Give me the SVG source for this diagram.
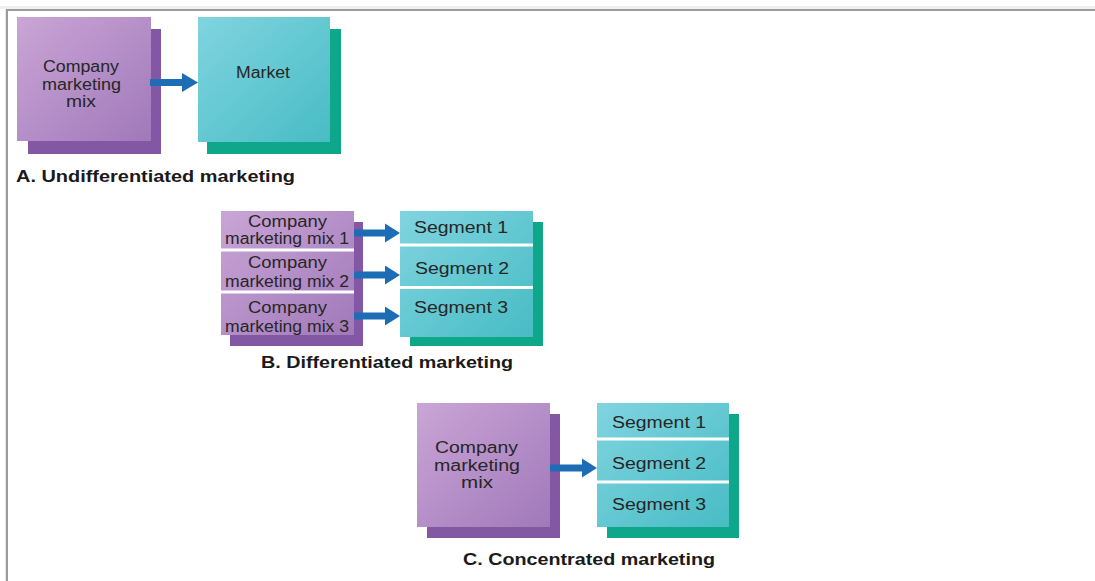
<svg xmlns="http://www.w3.org/2000/svg" width="1095" height="581" viewBox="0 0 1095 581">
<defs>
<linearGradient id="gp" x1="0" y1="0" x2="1" y2="1">
<stop offset="0" stop-color="#caa5d6"/>
<stop offset="1" stop-color="#a079b9"/>
</linearGradient>
<linearGradient id="gc" x1="0" y1="0" x2="1" y2="1">
<stop offset="0" stop-color="#80d4e0"/>
<stop offset="1" stop-color="#48bcc4"/>
</linearGradient>
<style>
.ps{fill:#8357a3}
.pf{fill:url(#gp)}
.cs{fill:#0fa78a}
.cf{fill:url(#gc)}
.t{font-family:"Liberation Sans",Arial,sans-serif;fill:#262626;text-anchor:middle;font-size:16px}
.cap{font-family:"Liberation Sans",Arial,sans-serif;font-weight:bold;font-size:16.5px;fill:#1a1a1a}
.sep{stroke:#ffffff;stroke-width:3}
.arr{fill:#1c6db5}
</style>
</defs>
<rect x="0" y="0" width="1095" height="581" fill="#ffffff"/>
<rect x="0" y="6" width="1095" height="3" fill="#f0f0f0"/>
<rect x="6" y="9" width="1089" height="2" fill="#9c9c9c"/>
<rect x="6" y="9" width="2" height="572" fill="#9c9c9c"/>
<rect x="5" y="9" width="1" height="572" fill="#e6e6e6"/>

<g id="a-mix">
<rect class="ps" x="28" y="29" width="133" height="125"/>
<rect class="pf" x="17" y="17" width="134" height="124"/>
<text class="t" x="81" y="72" textLength="76" lengthAdjust="spacingAndGlyphs">Company</text>
<text class="t" x="81.5" y="89.5" textLength="79" lengthAdjust="spacingAndGlyphs">marketing</text>
<text class="t" x="81" y="107" textLength="30" lengthAdjust="spacingAndGlyphs">mix</text>
</g>
<g id="a-market">
<rect class="cs" x="207" y="29" width="134" height="125"/>
<rect class="cf" x="198" y="17" width="132" height="125"/>
<text class="t" x="263" y="78" textLength="54" lengthAdjust="spacingAndGlyphs">Market</text>
</g>
<text class="cap" x="16" y="182" textLength="279" lengthAdjust="spacingAndGlyphs">A. Undifferentiated marketing</text>

<g id="b-mixes">
<rect class="ps" x="230" y="222" width="133" height="124"/>
<rect class="pf" x="221" y="211" width="133" height="124"/>
<line class="sep" x1="221" y1="250" x2="354" y2="250"/>
<line class="sep" x1="221" y1="292" x2="354" y2="292"/>
<text class="t" x="287.5" y="227" textLength="79" lengthAdjust="spacingAndGlyphs">Company</text>
<text class="t" x="287" y="244" textLength="124" lengthAdjust="spacingAndGlyphs">marketing mix 1</text>
<text class="t" x="287.5" y="268" textLength="79" lengthAdjust="spacingAndGlyphs">Company</text>
<text class="t" x="287" y="287" textLength="124" lengthAdjust="spacingAndGlyphs">marketing mix 2</text>
<text class="t" x="287.5" y="313" textLength="79" lengthAdjust="spacingAndGlyphs">Company</text>
<text class="t" x="287" y="332" textLength="124" lengthAdjust="spacingAndGlyphs">marketing mix 3</text>
</g>
<g id="b-segments">
<rect class="cs" x="410" y="222" width="133" height="124"/>
<rect class="cf" x="400" y="211" width="133" height="126"/>
<line class="sep" x1="400" y1="245" x2="533" y2="245"/>
<line class="sep" x1="400" y1="287.5" x2="533" y2="287.5"/>
<text class="t" x="461" y="233" textLength="94" lengthAdjust="spacingAndGlyphs">Segment 1</text>
<text class="t" x="462" y="273.5" textLength="94" lengthAdjust="spacingAndGlyphs">Segment 2</text>
<text class="t" x="461" y="313" textLength="94" lengthAdjust="spacingAndGlyphs">Segment 3</text>
</g>
<text class="cap" x="387" y="368" text-anchor="middle" textLength="252" lengthAdjust="spacingAndGlyphs">B. Differentiated marketing</text>

<g id="c-mix">
<rect class="ps" x="427" y="414" width="133" height="124"/>
<rect class="pf" x="417" y="403" width="133" height="124"/>
<text class="t" x="476.5" y="453" textLength="83" lengthAdjust="spacingAndGlyphs">Company</text>
<text class="t" x="477" y="470.5" textLength="86" lengthAdjust="spacingAndGlyphs">marketing</text>
<text class="t" x="477" y="488" textLength="32" lengthAdjust="spacingAndGlyphs">mix</text>
</g>
<g id="c-segments">
<rect class="cs" x="607" y="414" width="132" height="124"/>
<rect class="cf" x="597" y="403" width="132" height="124"/>
<line class="sep" x1="597" y1="439" x2="729" y2="439"/>
<line class="sep" x1="597" y1="482" x2="729" y2="482"/>
<text class="t" x="659" y="428" textLength="94" lengthAdjust="spacingAndGlyphs">Segment 1</text>
<text class="t" x="659" y="468.5" textLength="94" lengthAdjust="spacingAndGlyphs">Segment 2</text>
<text class="t" x="659" y="510" textLength="94" lengthAdjust="spacingAndGlyphs">Segment 3</text>
</g>
<text class="cap" x="589" y="565" text-anchor="middle" textLength="252" lengthAdjust="spacingAndGlyphs">C. Concentrated marketing</text>

<g id="connectors">
<path class="arr" d="M150,79 H182 V73 L198,82.5 L182,92 V86 H150 Z"/>
<path class="arr" d="M354,229.5 H385 V223.5 L400,233 L385,242.5 V236.5 H354 Z"/>
<path class="arr" d="M354,271.5 H385 V265.5 L400,275 L385,284.5 V278.5 H354 Z"/>
<path class="arr" d="M354,312.5 H385 V306.5 L400,316 L385,325.5 V319.5 H354 Z"/>
<path class="arr" d="M550,464.5 H582 V458.5 L597,468 L582,477.5 V471.5 H550 Z"/>
</g>
</svg>
